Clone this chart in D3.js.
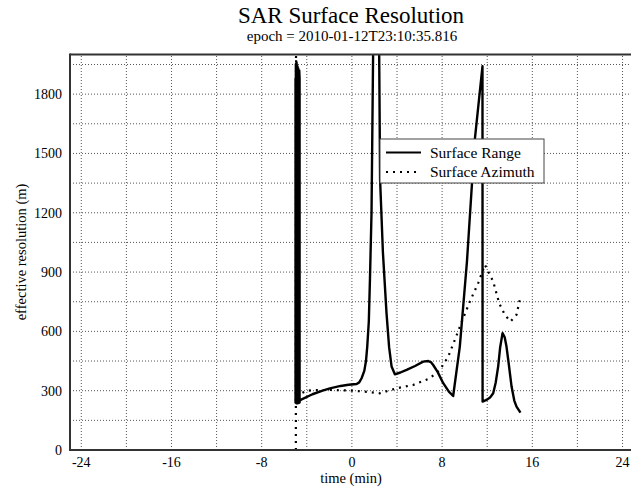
<!DOCTYPE html>
<html lang="en">
<head>
    <meta charset="UTF-8">
    <title>SAR Surface Resolution</title>
    <script src="https://d3js.org/d3.v7.min.js"></script>
    <style>
        body { margin: 0; background: #fff; }
        svg text { font-family: "Liberation Serif", "Times New Roman", serif; fill: #000; }
        .grid line { stroke: #555; stroke-width: 1; stroke-dasharray: 1,2; }
        .frame { stroke: #333; stroke-width: 2; }
    </style>
</head>
<body>
<svg width="631" height="488"></svg>
<script>
    // 数据：时间(分钟) 与 分辨率(米)
    const rangeTime = [-5.0, -5.0, -4.97, -4.97, -4.94, -4.94, -4.91, -4.91, -4.88, -4.88, -4.85, -4.85,
        -4.82, -4.82, -4.79, -4.79, -4.76, -4.76, -4.73, -4.73, -4.70, -4.70, -4.67, -4.67, -4.64, -4.64, -4.9,
        -4.5, -3.5, -2.6, -1.95, -1.0, -0.3, 0.42, 0.65, 0.86, 1.1, 1.25, 1.36, 1.5, 1.6, 1.74, 1.88, 2.15, 2.42, 2.5,
        2.75, 3.07, 3.3, 3.52, 3.81, 4.3, 4.85, 5.6, 6.32, 6.77, 7.0, 7.21, 7.6, 8.1, 8.6, 8.98, 9.57, 10.2, 10.9,
        11.58, 11.59, 11.93, 12.25, 12.53, 12.75, 12.97, 13.15, 13.36, 13.55, 13.71, 13.9, 14.16, 14.4, 14.6, 14.95];
    const rangeValues = [1880, 240, 250, 1950, 1920, 238, 245, 1960, 1850, 240, 236, 1900,
        1940, 242, 238, 1870, 1930, 244, 240, 1860, 1900, 238, 240, 1920, 1880, 240, 236,
        255, 282, 300, 312, 324, 330, 334, 342, 363, 400, 450, 523, 650, 861, 1200, 2000, 5000, 2000, 1367,
        1000, 692, 520, 422, 383, 392, 405, 425, 447, 450, 445, 430, 395, 338, 295, 273, 523, 950, 1570,
        1941, 245, 253, 265, 287, 340, 422, 520, 591, 570, 523, 440, 321, 250, 219, 189];

    const azimuthTime = [-4.97, -4.955, -4.93, -4.9, -4.86, -4.7, -4.46, -4.02, -3.0, -1.95, -1.0, 0.12, 1.3, 2.48,
        3.96, 5.43, 6.91, 7.8, 8.54, 9.13, 9.81, 10.46, 11.2, 11.79, 12.08, 12.53, 13.06, 13.56, 14.07, 14.6, 14.95];
    const azimuthValues = [0, 1995, 1900, 1960, 300, 275, 287, 300, 303, 304, 302, 300, 294, 287,
        312, 329, 363, 405, 472, 557, 658, 751, 844, 937, 903, 852, 743, 684, 650, 684, 776];

    const xTicks = [-24, -16, -8, 0, 8, 16, 24];
    const yTicks = [0, 300, 600, 900, 1200, 1500, 1800];
    const xGrid = d3.range(-24, 25, 4);
    const yGrid = d3.range(0, 2000, 150);

    const svg = d3.select("svg");
    const x = d3.scaleLinear().domain([-25, 25]).range([70, 633.8]);
    const y = d3.scaleLinear().domain([0, 2000]).range([450, 54.6]);

    // 网格线
    const grid = svg.append("g").attr("class", "grid");
    grid.selectAll(".gx").data(xGrid).join("line")
        .attr("x1", d => x(d)).attr("x2", d => x(d))
        .attr("y1", y(0)).attr("y2", y(2000));
    grid.selectAll(".gy").data(yGrid.filter(d => d > 0)).join("line")
        .attr("x1", x(-25)).attr("x2", x(25))
        .attr("y1", d => y(d)).attr("y2", d => y(d));

    // 裁剪区域
    svg.append("clipPath").attr("id", "clip")
        .append("rect")
        .attr("x", x(-25)).attr("y", y(2000))
        .attr("width", x(25) - x(-25)).attr("height", y(0) - y(2000));

    const line = d3.line().x(d => x(d[0])).y(d => y(d[1]));
    const rangeData = rangeTime.map((t, i) => [t, rangeValues[i]]);
    const azimuthData = azimuthTime.map((t, i) => [t, azimuthValues[i]]);

    const plot = svg.append("g").attr("clip-path", "url(#clip)");
    plot.append("path").datum(azimuthData)
        .attr("d", line)
        .attr("fill", "none").attr("stroke", "#000")
        .attr("stroke-width", 2.2)
        .attr("stroke-dasharray", "2,5");
    plot.append("path").datum(rangeData)
        .attr("d", line)
        .attr("fill", "none").attr("stroke", "#000")
        .attr("stroke-width", 2.4)
        .attr("stroke-linejoin", "round");

    // 边框
    svg.append("line").attr("class", "frame")
        .attr("x1", x(-25)).attr("x2", x(25)).attr("y1", y(2000)).attr("y2", y(2000));
    svg.append("line").attr("class", "frame")
        .attr("x1", x(-25)).attr("x2", x(25)).attr("y1", y(0)).attr("y2", y(0));
    svg.append("line").attr("class", "frame")
        .attr("x1", x(-25)).attr("x2", x(-25)).attr("y1", y(0) + 1).attr("y2", y(2000) - 1);

    // 刻度标签
    svg.selectAll(".xt").data(xTicks).join("text")
        .attr("x", d => x(d)).attr("y", 467)
        .attr("text-anchor", "middle")
        .style("font-size", "14px")
        .text(d => d);
    svg.selectAll(".yt").data(yTicks).join("text")
        .attr("x", 62).attr("y", d => y(d) + 5)
        .attr("text-anchor", "end")
        .style("font-size", "14px")
        .text(d => d);

    // 标题和轴标签
    svg.append("text").attr("x", 351).attr("y", 23)
        .attr("text-anchor", "middle").style("font-size", "23px")
        .text("SAR Surface Resolution");
    svg.append("text").attr("x", 352).attr("y", 41)
        .attr("text-anchor", "middle").style("font-size", "15px")
        .text("epoch = 2010-01-12T23:10:35.816");
    svg.append("text").attr("x", 351).attr("y", 483)
        .attr("text-anchor", "middle").style("font-size", "14.5px")
        .text("time (min)");
    svg.append("text")
        .attr("transform", "translate(26,252) rotate(-90)")
        .attr("text-anchor", "middle").style("font-size", "14.5px")
        .text("effective resolution (m)");

    // 图例
    const legend = svg.append("g");
    legend.append("rect")
        .attr("x", 380).attr("y", 139).attr("width", 164).attr("height", 44)
        .attr("fill", "#fff").attr("stroke", "#444").attr("stroke-width", 1);
    const entries = [
        { name: "Surface Range", dash: null, yy: 152.5 },
        { name: "Surface Azimuth", dash: "2,5", yy: 172 }
    ];
    entries.forEach(e => {
        legend.append("line")
            .attr("x1", 386).attr("x2", 421).attr("y1", e.yy).attr("y2", e.yy)
            .attr("stroke", "#000").attr("stroke-width", 2.2)
            .attr("stroke-dasharray", e.dash);
        legend.append("text")
            .attr("x", 430).attr("y", e.yy + 5)
            .style("font-size", "15.5px")
            .text(e.name);
    });
</script>
</body>
</html>
